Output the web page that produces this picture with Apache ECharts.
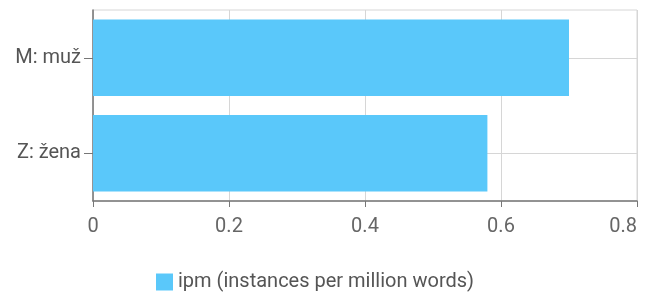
<!DOCTYPE html>
<html>
<head>
<meta charset="utf-8">
<script src="https://cdn.jsdelivr.net/npm/echarts@6/dist/echarts.min.js"></script>
<style>
  html, body { margin: 0; padding: 0; background: #fff; }
  #chart { width: 646px; height: 300px; }
</style>
</head>
<body>
<div id="chart"></div>
<script>
// data
var categories = ['M: muž', 'Z: žena'];
var ipmValues = [0.70, 0.58];
var seriesName = 'ipm (instances per million words)';
var xTicks = [0, 0.2, 0.4, 0.6, 0.8];

var chart = echarts.init(document.getElementById('chart'));

chart.setOption({
    textStyle: { fontFamily: 'Roboto' },
    grid: {
        left: 93,
        right: 9,
        top: 10,
        bottom: 99,
        outerBoundsMode: 'none',
        containLabel: false,
        show: true,
        borderColor: '#d6d6d6',
        borderWidth: 1
    },
    legend: {
        bottom: 3,
        left: 151,
        itemWidth: 17,
        itemHeight: 17,
        icon: 'rect',
        itemGap: 6,
        textStyle: { fontSize: 20, color: '#555', fontFamily: 'Roboto' },
        data: [seriesName]
    },
    xAxis: {
        type: 'value',
        min: xTicks[0],
        max: xTicks[xTicks.length - 1],
        interval: 0.2,
        axisLine: { show: true, lineStyle: { color: '#777', width: 1.5 } },
        axisTick: { show: true, length: 6, lineStyle: { color: '#777' } },
        axisLabel: { fontSize: 20, color: '#666', margin: 16, alignMaxLabel: 'right' },
        splitLine: { show: true, lineStyle: { color: '#d6d6d6' } }
    },
    yAxis: [{
        type: 'category',
        inverse: true,
        data: categories,
        axisLine: { show: true, lineStyle: { color: '#777', width: 1.5 } },
        axisTick: { show: true, alignWithLabel: true, length: 9, lineStyle: { color: '#777' } },
        axisLabel: { fontSize: 20, color: '#555', margin: 12 },
        splitLine: { show: false }
    }, {
        // helper axis: gridlines through the category centres
        type: 'category',
        position: 'left',
        boundaryGap: false,
        data: ['', '', '', '', ''],
        axisLine: { show: false },
        axisTick: { show: false },
        axisLabel: { show: false },
        splitLine: {
            show: true,
            interval: function (index) { return index % 2 === 1; },
            lineStyle: { color: '#d6d6d6' }
        }
    }],
    series: [{
        name: seriesName,
        type: 'bar',
        yAxisIndex: 0,
        data: ipmValues,
        barCategoryGap: '20%',
        itemStyle: { color: '#5ac8fa' }
    }]
});
</script>
</body>
</html>
